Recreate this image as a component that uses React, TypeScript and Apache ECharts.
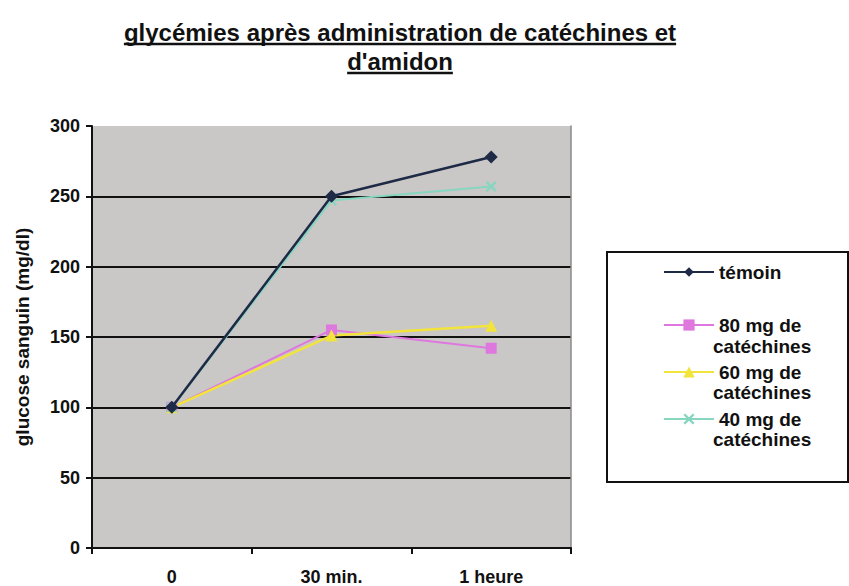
import React, { useEffect, useRef } from "react";
import * as echarts from "echarts";

const categories = ["0", "30 min.", "1 heure"];
const seriesNames = ["témoin", "80 mg de catéchines", "60 mg de catéchines", "40 mg de catéchines"];
const temoin = [100, 250, 278];
const mg80 = [100, 155, 142];
const mg60 = [100, 151, 158];
const mg40 = [100, 247, 257];
const yTicks = [0, 50, 100, 150, 200, 250, 300];

const titleLines = ["glycémies après administration de catéchines et", "d'amidon"];
const FONT = "'Liberation Sans', Arial, sans-serif";

function measure(text: string, size: number) {
  const c = document.createElement("canvas").getContext("2d");
  if (!c) return text.length * size * 0.55;
  c.font = `bold ${size}px ${FONT}`;
  return c.measureText(text).width;
}

export default function App() {
  const ref = useRef<HTMLDivElement>(null);
  useEffect(() => {
    if (!ref.current) return;
    const chart = echarts.init(ref.current, undefined, { renderer: "svg" });
    const titleSize = 24;
    const cx = 400;
    const lineYs = [32, 61];
    const titleGraphics: any[] = [];
    titleLines.forEach((t, i) => {
      const w = measure(t, titleSize);
      titleGraphics.push({
        type: "text",
        x: cx,
        y: lineYs[i],
        style: { text: t, font: `bold ${titleSize}px ${FONT}`, fill: "#111", align: "center", verticalAlign: "middle" },
      });
      titleGraphics.push({
        type: "line",
        shape: { x1: cx - w / 2, y1: lineYs[i] + 12, x2: cx + w / 2, y2: lineYs[i] + 12 },
        style: { stroke: "#111", lineWidth: 2.5 },
      });
    });
    const fs = 18;
    const lfs = 19;
    const labelStyle = { fontFamily: FONT, fontWeight: "bold" as const, fontSize: fs, color: "#111" };
    const legendText = { ...labelStyle, fontSize: lfs, lineHeight: 24 };
    const splitColors = yTicks.map((v, i) => (i === yTicks.length - 1 ? "rgba(0,0,0,0)" : "#111"));
    const xPath = "path://M0,1.5L1.5,0L5,3.5L8.5,0L10,1.5L6.5,5L10,8.5L8.5,10L5,6.5L1.5,10L0,8.5L3.5,5Z";
    chart.setOption({
      animation: false,
      backgroundColor: "#ffffff",
      grid: { left: 92, right: 278, top: 126, bottom: 38, show: true, backgroundColor: "#cac7c7", borderWidth: 0 },
      legend: [
        {
          data: [seriesNames[0]],
          orient: "vertical",
          left: 658,
          top: 255,
          itemWidth: 50,
          itemHeight: 12,
          textStyle: legendText,
        },
        {
          data: seriesNames.slice(1),
          orient: "vertical",
          left: 658,
          top: 308,
          itemWidth: 50,
          itemHeight: 14,
          itemGap: 23,
          textStyle: legendText,
          formatter: (name: string) => name.replace(" catéchines", ""),
        },
      ],
      graphic: [
        ...titleGraphics,
        {
          type: "rect",
          shape: { x: 607, y: 252, width: 241, height: 230 },
          style: { fill: "none", stroke: "#111", lineWidth: 2 },
          silent: true,
        },
        ...[346, 392, 439].map((y) => ({
          type: "text",
          x: 713,
          y,
          style: { text: "catéchines", font: `bold ${lfs}px ${FONT}`, fill: "#111", verticalAlign: "middle" },
        })),
      ],
      xAxis: {
        type: "category",
        data: categories,
        boundaryGap: true,
        axisLine: { lineStyle: { color: "#111", width: 2 } },
        axisTick: { show: true, length: 6, lineStyle: { color: "#111", width: 2 } },
        axisLabel: { ...labelStyle, margin: 20 },
        splitLine: { show: false },
      },
      yAxis: [
        {
          type: "value",
          min: 0,
          max: 300,
          interval: 50,
          name: "glucose sanguin (mg/dl)",
          nameLocation: "middle",
          nameGap: 60,
          nameRotate: 90,
          nameTextStyle: { ...labelStyle, fontSize: 19 },
          axisLine: { show: true, lineStyle: { color: "#111", width: 2 } },
          axisTick: { show: true, length: 6, lineStyle: { color: "#111", width: 2 } },
          axisLabel: { ...labelStyle, margin: 12 },
          splitLine: { show: true, lineStyle: { color: splitColors, width: 2 } },
        },
        {
          type: "value",
          min: 0,
          max: 300,
          interval: 50,
          position: "right",
          axisLine: { show: true, lineStyle: { color: "#8a8888", width: 1.5 } },
          axisTick: { show: false },
          axisLabel: { show: false },
          splitLine: { show: false },
        },
      ],
      series: [
        {
          name: seriesNames[0],
          type: "line",
          data: temoin,
          symbol: "diamond",
          symbolSize: 13,
          lineStyle: { color: "#1e2a46", width: 2.5 },
          itemStyle: { color: "#1e2a46" },
          z: 5,
        },
        {
          name: seriesNames[1],
          type: "line",
          data: mg80,
          symbol: "rect",
          symbolSize: 11,
          lineStyle: { color: "#de78de", width: 2 },
          itemStyle: { color: "#de78de" },
        },
        {
          name: seriesNames[2],
          type: "line",
          data: mg60,
          symbol: "triangle",
          symbolSize: 12,
          lineStyle: { color: "#f2e43a", width: 2.5 },
          itemStyle: { color: "#f2e43a" },
        },
        {
          name: seriesNames[3],
          type: "line",
          data: mg40,
          symbol: xPath,
          symbolSize: 11,
          lineStyle: { color: "#86d6c0", width: 2 },
          itemStyle: { color: "#86d6c0" },
        },
      ],
    });
    return () => chart.dispose();
  }, []);
  return <div ref={ref} style={{ width: 849, height: 586, position: "absolute", left: 0, top: 0 }} />;
}
